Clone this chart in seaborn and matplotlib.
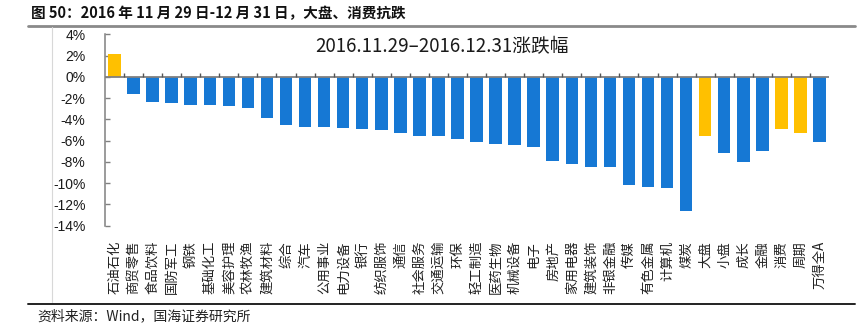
import numpy as np
import pandas as pd
import matplotlib
matplotlib.use("Agg")
import matplotlib.pyplot as plt
import seaborn as sns

categories = ["石油石化", "商贸零售", "食品饮料", "国防军工", "钢铁", "基础化工", "美容护理",
              "农林牧渔", "建筑材料", "综合", "汽车", "公用事业", "电力设备", "银行", "纺织服饰",
              "通信", "社会服务", "交通运输", "环保", "轻工制造", "医药生物", "机械设备", "电子",
              "房地产", "家用电器", "建筑装饰", "非银金融", "传媒", "有色金属", "计算机", "煤炭",
              "大盘", "小盘", "成长", "金融", "消费", "周期", "万得全A"]
values = [2.14, -1.63, -2.32, -2.45, -2.67, -2.67, -2.73, -2.95, -3.83, -4.49, -4.71,
          -4.71, -4.78, -4.87, -4.97, -5.25, -5.60, -5.60, -5.82, -6.13, -6.29, -6.41,
          -6.57, -7.95, -8.24, -8.49, -8.49, -10.20, -10.37, -10.47, -12.64,
          -5.60, -7.13, -8.02, -7.01, -4.90, -5.31, -6.13]
highlighted = ["石油石化", "大盘", "消费", "周期"]
y_ticks = [4, 2, 0, -2, -4, -6, -8, -10, -12, -14]
y_tick_labels = ["4%", "2%", "0%", "-2%", "-4%", "-6%", "-8%", "-10%", "-12%", "-14%"]

fig_title = "图 50：2016 年 11 月 29 日-12 月 31 日，大盘、消费抗跌"
chart_title = "2016.11.29–2016.12.31涨跌幅"
source_text = "资料来源：Wind，国海证券研究所"

sns.set_theme(style="white")
plt.rcParams["font.family"] = ["Noto Sans CJK SC", "DejaVu Sans"]
plt.rcParams["axes.unicode_minus"] = False

df = pd.DataFrame({
    "category": categories,
    "value": values,
    "group": ["hi" if c in highlighted else "lo" for c in categories],
})

W, H = 858, 332
fig = plt.figure(figsize=(W / 100, H / 100), dpi=100)
ax = fig.add_axes([105 / W, 1 - 225.7 / H, (829 - 105) / W, (225.7 - 34.3) / H])

sns.barplot(data=df, x="category", y="value", hue="group", order=categories,
            palette={"hi": "#FFC000", "lo": "#1678D4"}, dodge=False, legend=False,
            width=0.66, saturation=1, ax=ax, edgecolor="none")

n = len(categories)
ax.set_xlim(-0.5, n - 0.5)
ax.set_ylim(-14, 4)
ax.set_yticks(y_ticks)
ax.set_yticklabels(y_tick_labels, family=["Liberation Sans", "DejaVu Sans"], fontsize=10, color="#1a1a1a")
ax.tick_params(axis="y", direction="in", length=3.5, width=1, color="#808080", pad=14, left=True)

ax.set_xticks(range(n))
ax.set_xticklabels(categories, rotation=90, fontsize=9.6, color="#222222", va="top", ha="center")
ax.tick_params(axis="x", length=0, pad=11)
ax.set_xlabel("")
ax.set_ylabel("")

for s in ["top", "right", "bottom"]:
    ax.spines[s].set_visible(False)
ax.spines["left"].set_color("#808080")
ax.spines["left"].set_linewidth(1.1)

ax.axhline(0, color="#808080", lw=1.3, zorder=3)
ax.vlines(np.arange(0.5, n - 1), 0, 0.32, color="#555555", lw=1, zorder=3)

ax.text(0.465, 0.935, chart_title, transform=ax.transAxes, ha="center", va="center",
        fontsize=13.5, color="#1a1a1a")

# header and footer
fig.text(31 / W, 1 - 13 / H, fig_title, ha="left", va="center", fontsize=10.5,
         fontweight="bold", color="#111111")
fig.add_artist(plt.Line2D([28 / W, 855 / W], [1 - 26 / H, 1 - 26 / H], color="#8a8a8a", lw=2))
fig.add_artist(plt.Line2D([52 / W, 52 / W], [1 - 27 / H, 1 - 302 / H], color="#d8d8d8", lw=0.8))
fig.add_artist(plt.Line2D([28 / W, 855 / W], [1 - 303.5 / H, 1 - 303.5 / H], color="#222222", lw=1.4))
fig.text(37 / W, 1 - 316 / H, source_text, ha="left", va="center", fontsize=10, color="#222222")

fig.savefig("out.png", dpi=100)
